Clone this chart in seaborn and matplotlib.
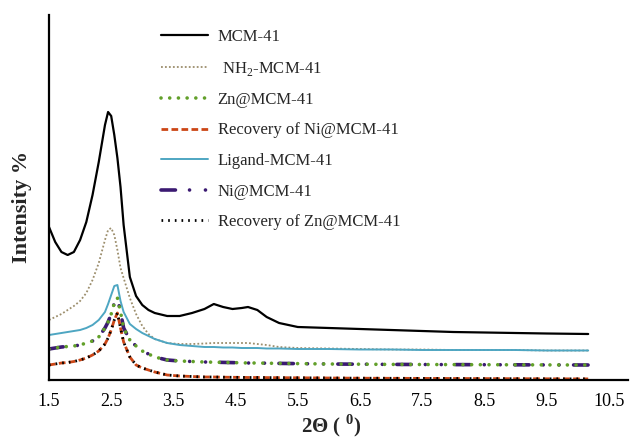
import numpy as np
import pandas as pd
import matplotlib
matplotlib.use("Agg")
import matplotlib.pyplot as plt
import seaborn as sns

# ---- data ----
two_theta = [1.5, 1.6, 1.7, 1.8, 1.9, 2.0, 2.1, 2.2, 2.3, 2.4, 2.45, 2.5, 2.55, 2.6,
             2.65, 2.7, 2.8, 2.9, 3.0, 3.1, 3.2, 3.4, 3.6, 3.8, 4.0, 4.15, 4.3, 4.45,
             4.6, 4.7, 4.85, 5.0, 5.2, 5.5, 6.0, 6.5, 7.0, 7.5, 8.0, 8.5, 9.0, 9.5, 10.17]

mcm41 = [153, 138, 128, 125, 128, 140, 158, 185, 218, 255, 268, 264, 245, 222,
         193, 155, 103, 84, 75, 70, 67, 64, 64, 67, 71, 76, 73, 71,
         72, 73, 70, 63, 57, 53, 52, 51, 50, 49, 48, 47.5, 47, 46.5, 46]

nh2_mcm41 = [60, 63, 66, 70, 74, 79, 87, 100, 117, 140, 150, 152, 145, 130,
             112, 102, 82, 66, 54, 46, 41, 37, 36, 36, 36.5, 37, 37, 37,
             37, 37, 36, 35, 33, 32, 31.5, 31, 30.5, 30.5, 30, 30, 30, 29.5, 29.5]

ligand_mcm41 = [45, 46, 47, 48, 49, 50, 52, 55, 60, 68, 76, 85, 94, 95,
                79, 68, 56, 51, 47, 44, 41, 37, 35, 34, 33, 33, 32.5, 32.5,
                32, 32, 32, 31.5, 31.5, 31, 31, 30.5, 30.5, 30, 30, 30, 30, 29.5, 29.5]

zn_mcm41 = [31, 32, 33, 33.5, 34, 35, 37, 39, 43, 52, 58, 66, 77, 82,
            68, 52, 40, 34, 29, 26, 23, 20, 19, 18.5, 18, 17.8, 17.6, 17.4,
            17.2, 17, 17, 16.8, 16.6, 16.4, 16, 15.8, 15.6, 15.5, 15.4, 15.3, 15.2, 15.1, 15]

ni_mcm41 = zn_mcm41

rec_ni = [15, 16, 17, 17.5, 18.5, 20, 22, 25, 29, 36, 42, 50, 60, 67,
          52, 38, 23, 15, 12, 10, 8, 5, 4, 3.5, 3, 3, 2.8, 2.7,
          2.6, 2.5, 2.5, 2.4, 2.3, 2.2, 2, 1.8, 1.7, 1.6, 1.5, 1.4, 1.3, 1.2, 1.1]

rec_zn = rec_ni

x_ticks = [1.5, 2.5, 3.5, 4.5, 5.5, 6.5, 7.5, 8.5, 9.5, 10.5]

# ---- style ----
sns.set_theme(style="white")
plt.rcParams['font.family'] = ['Liberation Serif', 'DejaVu Serif']
plt.rcParams['mathtext.fontset'] = 'custom'
plt.rcParams['mathtext.rm'] = 'Liberation Serif'
plt.rcParams['mathtext.bf'] = 'Liberation Serif:bold'

fig = plt.figure(figsize=(6.3, 4.44), dpi=100)
ax = fig.add_axes([49/630, 1-380/444, (628-49)/630, (380-15)/444])

df = pd.DataFrame({"x": two_theta})

def draw(y, label, **kw):
    d = df.assign(y=y)
    sns.lineplot(data=d, x="x", y="y", ax=ax, label=label, sort=False, **kw)

draw(mcm41, "MCM-41", color="black", linewidth=1.6)
draw(nh2_mcm41, r" NH$_\mathregular{2}$-MCM-41", color="#9c8e6c", linewidth=1.3,
     linestyle=(0, (1, 1.2)))
draw(ligand_mcm41, "Ligand-MCM-41", color="#4ea6c2", linewidth=1.4)
draw(ni_mcm41, "Ni@MCM-41", color="#3b1a72", linewidth=2.6,
     linestyle=(0, (4, 3.9, 0.01, 4.4, 0.01, 4.0)), dash_capstyle="round")
draw(zn_mcm41, "Zn@MCM-41", color="#62a02a", linewidth=2.6,
     linestyle=(0, (0.01, 2.4)), dash_capstyle="round")
draw(rec_ni, "Recovery of Ni@MCM-41", color="#cc4616", linewidth=2.0,
     linestyle=(0, (2.4, 1.2)))
draw(rec_zn, "Recovery of Zn@MCM-41", color="black", linewidth=2.0,
     linestyle=(0, (0.6, 1.8)))

ax.set_xlim(1.5, 10.81)
ax.set_ylim(0, 365)
ax.set_xticks(x_ticks)
ax.set_xticklabels([f"{t:.1f}" for t in x_ticks])
ax.set_yticks([])
ax.tick_params(axis="x", length=0, pad=9, labelsize=13, colors="black")

for s in ["top", "right"]:
    ax.spines[s].set_visible(False)
for s in ["left", "bottom"]:
    ax.spines[s].set_color("black")
    ax.spines[s].set_linewidth(1.6)

ax.set_xlabel(r"2Θ ( $^\mathregular{0}$)", fontsize=15, fontweight="bold")
ax.xaxis.set_label_coords((331-49)/579, (380-426)/365)
ax.xaxis.label.set_va("center")
ax.set_ylabel("Intensity %", fontsize=16, fontweight="bold")
ax.yaxis.set_label_coords((22-49)/579, (380-207)/365)
ax.yaxis.label.set_va("center")

handles, labels = ax.get_legend_handles_labels()
order = ["MCM-41", r" NH$_\mathregular{2}$-MCM-41", "Zn@MCM-41", "Recovery of Ni@MCM-41",
         "Ligand-MCM-41", "Ni@MCM-41", "Recovery of Zn@MCM-41"]
hmap = dict(zip(labels, handles))
ax.legend([hmap[l] for l in order], order, loc="upper left",
          bbox_to_anchor=(161/630, 1-29/444), bbox_transform=fig.transFigure,
          frameon=False, fontsize=12, handlelength=2.8, handletextpad=0.6,
          labelspacing=0.87, borderpad=0, borderaxespad=0)

fig.savefig("out.png", dpi=100)
